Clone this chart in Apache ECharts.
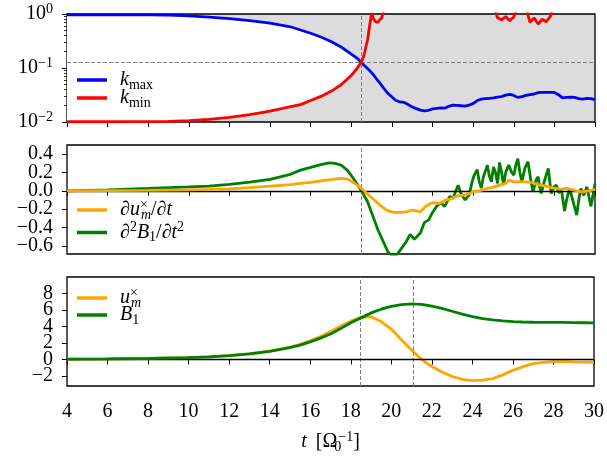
<!DOCTYPE html>
<html><head><meta charset="utf-8">
<script src="https://cdn.jsdelivr.net/npm/echarts@6/dist/echarts.min.js"></script>
<style>html,body{margin:0;padding:0;background:#fff}#c{width:607px;height:456px}</style>
</head><body><div id="c"></div><script>
// ---------- data ----------
const xTicks = [4, 6, 8, 10, 12, 14, 16, 18, 20, 22, 24, 26, 28, 30];
const tTop = [4, 6, 8, 9, 10, 11, 12, 13, 14, 15,
  15.5, 16, 16.5, 17, 17.5, 18, 18.3, 18.48, 18.6, 18.8,
  18.9, 19.0, 19.1, 19.2, 19.3, 19.4, 19.5, 19.6, 19.8, 20.0,
  20.2, 20.4, 20.6, 20.8, 21.0, 21.2, 21.4, 21.6, 21.8, 22.0,
  22.2, 22.4, 22.6, 22.8, 23.0, 23.2, 23.4, 23.6, 23.8, 24.0,
  24.2, 24.4, 24.6, 24.8, 25.0, 25.2, 25.4, 25.6, 25.8, 26.0,
  26.2, 26.4, 26.6, 26.8, 27.0, 27.2, 27.4, 27.6, 27.8, 28.0,
  28.2, 28.4, 28.6, 28.8, 29.0, 29.2, 29.4, 29.6, 29.8, 30.0];
const kMax = [0.96, 0.96, 0.96, 0.95, 0.925, 0.875, 0.82, 0.755, 0.675, 0.58,
  0.505, 0.44, 0.375, 0.31, 0.245, 0.18, 0.15, 0.128, 0.115, 0.098,
  0.09, 0.082, 0.074, 0.066, 0.059, 0.053, 0.047, 0.042, 0.034, 0.029,
  0.025, 0.0235, 0.023, 0.021, 0.019, 0.0177, 0.0166, 0.016, 0.0165, 0.0175,
  0.0178, 0.0183, 0.018, 0.0195, 0.0205, 0.0203, 0.02, 0.0197, 0.0205, 0.022,
  0.025, 0.0265, 0.027, 0.0275, 0.028, 0.029, 0.0295, 0.0315, 0.0325, 0.031,
  0.0285, 0.0295, 0.031, 0.032, 0.033, 0.035, 0.0355, 0.0355, 0.0355, 0.0352,
  0.032, 0.028, 0.0285, 0.029, 0.0285, 0.027, 0.0265, 0.0275, 0.027, 0.026];
const kMin = [0.0101, 0.0101, 0.0102, 0.0103, 0.0106, 0.0112, 0.0122, 0.0137, 0.0159, 0.0192,
  0.021, 0.025, 0.0298, 0.037, 0.049, 0.073, 0.1, 0.128, 0.16, 0.33,
  0.6, 1.05, 0.8, 0.72, 0.7, 0.78, 0.85, 1.2, 2.5, 3,
  3, 3, 3, 3, 3, 3, 3, 3, 3, 3,
  3, 3, 3, 3, 3, 3, 3, 3, 3, 3,
  3, 3, 3, 3, 1.5, 0.85, 0.78, 0.9, 0.75, 0.88,
  1.4, 2, 1.3, 0.7, 0.85, 0.65, 0.8, 0.72, 0.9, 1.6,
  3, 3, 3, 3, 3, 3, 3, 3, 3, 3];
const tCross = 18.48, tPeakB = 21.1, kCross = 0.128;

const tDU = [4, 6, 8, 10, 11, 12, 13, 14, 15, 15.5,
  16, 16.5, 17, 17.45, 17.8, 18.1, 18.5, 18.95, 19.4, 19.8,
  20.1, 20.4, 20.7, 21.0, 21.2, 21.4, 21.64, 21.9, 22.1, 22.3,
  22.5, 22.65, 22.9, 23.1, 23.35, 23.6, 23.8, 24.05, 24.3, 24.7,
  25.0, 25.3, 25.6, 25.75, 26.0, 26.3, 26.6, 26.9, 27.3, 27.6,
  27.9, 28.2, 28.4, 28.6, 28.9, 29.2, 29.4, 29.7, 30];
const dU = [0.0, 0.002, 0.005, 0.01, 0.015, 0.022, 0.035, 0.05, 0.068, 0.08,
  0.092, 0.109, 0.122, 0.135, 0.13, 0.091, 0.026, -0.065, -0.156, -0.22,
  -0.236, -0.235, -0.23, -0.21, -0.22, -0.23, -0.174, -0.138, -0.13, -0.14,
  -0.12, -0.1, -0.09, -0.065, -0.05, -0.047, -0.03, -0.004, 0.0, 0.026,
  0.04, 0.062, 0.08, 0.117, 0.098, 0.1, 0.098, 0.09, 0.062, 0.05,
  0.033, 0.02, 0.018, 0.03, 0.01, -0.005, -0.011, 0.0, 0.015];

const tD2B = [4, 5, 6, 7, 8, 9, 10, 11, 12, 13,
  14, 15, 15.5, 16, 16.5, 16.9, 17.2, 17.5, 17.8, 18.1,
  18.3, 18.5, 18.8, 19.1, 19.3, 19.5, 19.8, 20.0, 20.2, 20.4,
  20.7, 20.9, 21.1, 21.4, 21.6, 21.8, 22.0, 22.2, 22.4, 22.6,
  22.85, 23.0, 23.15, 23.26, 23.4, 23.6, 23.8, 23.95, 24.05, 24.2,
  24.3, 24.4, 24.5, 24.7, 24.8, 24.9, 25.0, 25.1, 25.2, 25.3,
  25.4, 25.5, 25.6, 25.75, 25.9, 26.0, 26.1, 26.2, 26.3, 26.4,
  26.55, 26.7, 26.85, 26.95, 27.1, 27.2, 27.3, 27.35, 27.5, 27.7,
  27.8, 27.85, 28.0, 28.1, 28.2, 28.35, 28.5, 28.6, 28.75, 28.9,
  29.1, 29.2, 29.3, 29.45, 29.6, 29.8, 29.9, 30.0];
const d2B = [0.0, 0.005, 0.01, 0.018, 0.025, 0.035, 0.042, 0.05, 0.07, 0.095,
  0.125, 0.18, 0.226, 0.255, 0.285, 0.305, 0.3, 0.28, 0.226, 0.135,
  0.07, 0.0, -0.12, -0.3, -0.42, -0.52, -0.665, -0.71, -0.71, -0.65,
  -0.556, -0.475, -0.53, -0.46, -0.345, -0.32, -0.236, -0.17, -0.13, -0.17,
  -0.06, -0.083, 0.0, 0.06, -0.03, -0.1, -0.047, 0.1, 0.17, 0.23,
  0.1, 0.03, 0.15, 0.28, 0.16, 0.098, 0.26, 0.2, 0.08, 0.31,
  0.2, 0.062, 0.2, 0.28, 0.2, 0.17, 0.28, 0.35, 0.2, 0.098,
  0.25, 0.318, 0.1, -0.011, 0.12, 0.153, 0.02, -0.029, 0.1, 0.244,
  0.05, -0.029, 0.05, 0.062, -0.02, 0.007, -0.22, -0.1, 0.026, -0.1,
  -0.265, -0.1, 0.026, -0.05, 0.044, -0.17, -0.05, 0.08];

const tBot = [4, 6, 8, 10, 11, 12, 13, 14, 15, 15.5,
  16, 16.5, 17, 17.5, 18, 18.5, 19, 19.5, 20, 20.5,
  21, 21.5, 22, 22.5, 23, 23.5, 24, 24.5, 25, 25.5,
  26, 26.5, 27, 27.5, 28, 28.5, 29, 29.5, 30];
const uM = [0.05, 0.08, 0.13, 0.24, 0.33, 0.48, 0.7, 1.02, 1.5, 1.85,
  2.3, 2.8, 3.4, 4.05, 4.65, 5.12, 5.2, 4.6, 3.7, 2.4,
  1.15, 0.0, -0.84, -1.5, -2.05, -2.4, -2.55, -2.5, -2.3, -1.85,
  -1.3, -0.85, -0.5, -0.33, -0.25, -0.22, -0.27, -0.31, -0.32];
const B1 = [0.05, 0.08, 0.13, 0.24, 0.33, 0.48, 0.7, 1.0, 1.45, 1.75,
  2.15, 2.6, 3.1, 3.75, 4.45, 5.05, 5.65, 6.1, 6.45, 6.65,
  6.75, 6.68, 6.48, 6.2, 5.85, 5.5, 5.2, 4.95, 4.8, 4.68,
  4.6, 4.55, 4.52, 4.5, 4.5, 4.5, 4.48, 4.46, 4.44];

const logMajor = [0.01, 0.1, 1];
const logMinor = [0.02, 0.03, 0.04, 0.05, 0.06, 0.07, 0.08, 0.09, 0.2, 0.3, 0.4, 0.5, 0.6, 0.7, 0.8, 0.9];
const midTicksA = [-0.6, -0.2, 0.2];
const midTicksB = [-0.4, 0, 0.4];
const botTicksA = [-2, 2, 6];
const botTicksB = [0, 4, 8];

// ---------- helpers ----------
const F = 'Liberation Serif';
const FS = 20;
const GRAY = '#dcdcdc';
const rich = {
  r: {fontFamily: F, fontSize: FS, lineHeight: 24, color: '#000'},
  i: {fontFamily: F, fontSize: FS, fontStyle: 'italic', lineHeight: 24, color: '#000'},
  sub: {fontFamily: F, fontSize: 14, lineHeight: 14, verticalAlign: 'bottom', color: '#000'},
  subi: {fontFamily: F, fontSize: 14, fontStyle: 'italic', lineHeight: 14, verticalAlign: 'bottom', color: '#000'},
  subz: {fontFamily: F, fontSize: 14, lineHeight: 14, verticalAlign: 'bottom', width: 1, color: '#000'},
  sup: {fontFamily: F, fontSize: 14, lineHeight: 14, verticalAlign: 'top', color: '#000'},
  supz: {fontFamily: F, fontSize: 14, lineHeight: 14, verticalAlign: 'top', width: 1, color: '#000'},
  sp: {fontFamily: F, fontSize: FS, lineHeight: 24, width: 9}
};
const zip = (a, b) => a.slice(0, Math.min(a.length, b.length)).map((t, i) => [t, b[i]]);
const bandTop = [], bandLow = [];
tTop.forEach((t, i) => { if (t <= tCross + 1e-9) { bandTop.push([t, kMax[i]]); bandLow.push([t, kMin[i]]); } });

const legendText = {
  kmax: '{i|k}{sub|max}',
  kmin: '{i|k}{sub|min}',
  du: '{r|∂}{i|u}{supz|×}{subi|m}{r|/∂}{i|t}',
  d2b: '{r|∂}{sup|2}{i|B}{sub|1}{r|/∂}{i|t}{sup|2}',
  u: '{i|u}{supz|×}{subi|m}',
  b1: '{i|B}{sub|1}'
};
const minus = v => String(v).replace('-', '\u2212');

// grids 0-2 visible panels; 3-5 overlay copies used only for extra tick/label sets
const rects = [[14, 108], [145, 109], [277, 109], [14, 108], [145, 109], [277, 109]];
const grids = rects.map(([top, h], k) => ({left: 67, right: 12, top: top, height: h,
  show: k < 3, borderColor: '#000', borderWidth: 1.3,
  backgroundColor: k === 0 ? GRAY : 'transparent', containLabel: false}));

const xAxisBase = k => ({
  type: 'value', gridIndex: k, min: 4, max: 30, interval: 2, show: k < 3,
  axisLine: {show: false}, splitLine: {show: false},
  axisTick: {show: true, length: 5, lineStyle: {color: '#000', width: 1}},
  axisLabel: {show: k === 2, margin: 16, fontFamily: F, fontSize: FS, color: '#000',
    showMinLabel: true, showMaxLabel: true}
});
const xAxes = [0, 1, 2, 3, 4, 5].map(xAxisBase);
xAxes[2].name = '{i|t}{sp| }{r|[Ω}{subz|0}{sup|−1}{r|]}';
xAxes[2].nameLocation = 'middle';
xAxes[2].nameGap = 44;
xAxes[2].nameTextStyle = {rich: rich};

const tickStyle = {color: '#000', width: 1};
const yLab = {interval: 0, hideOverlap: false, showMinLabel: true, showMaxLabel: true, margin: 14,
  fontFamily: F, fontSize: FS, color: '#000'};
const valAxis = (grid, min, max, vals, fmt) => ({
  type: 'value', gridIndex: grid, min: min, max: max,
  axisLine: {show: false}, splitLine: {show: false},
  axisTick: {show: true, length: 5, interval: 0, customValues: vals, lineStyle: tickStyle},
  axisLabel: Object.assign({}, yLab, {customValues: vals, formatter: fmt})
});
const fmtMid = v => minus(v.toFixed(1));
const fmtBot = v => minus(Math.round(v));
const yAxes = [
  {type: 'log', logBase: 10, gridIndex: 0, min: 0.01, max: 1,
   axisLine: {show: false}, splitLine: {show: false}, minorTick: {show: false},
   axisTick: {show: true, length: 5, interval: 0, customValues: logMajor, lineStyle: tickStyle},
   axisLabel: Object.assign({}, yLab, {customValues: logMajor, rich: rich,
     formatter: v => '{r|10}{sup|' + minus(Math.round(Math.log10(v))) + '}'})},
  valAxis(1, -0.69, 0.5, midTicksA, fmtMid),
  valAxis(2, -3.2, 10, botTicksA, fmtBot),
  {type: 'log', logBase: 10, gridIndex: 3, min: 0.01, max: 1,
   axisLine: {show: false}, splitLine: {show: false}, axisLabel: {show: false},
   axisTick: {show: true, length: 3, interval: 0, customValues: logMinor, lineStyle: {color: '#000', width: 0.8}}},
  valAxis(4, -0.69, 0.5, midTicksB, fmtMid),
  valAxis(5, -3.2, 10, botTicksB, fmtBot)
];

const dashed = {type: [4, 2], color: '#808080', width: 1};
const mlBase = {silent: true, symbol: ['none', 'none'], label: {show: false}, animation: false, emphasis: {disabled: true}};
const lineSeries = (name, data, xi, yi, color, z, extra) => Object.assign({
  name: name, type: 'line', xAxisIndex: xi, yAxisIndex: yi, data: data,
  showSymbol: false, symbol: 'none', smooth: false, z: z, animation: false,
  lineStyle: {color: color, width: 2.8}, itemStyle: {color: color}, emphasis: {disabled: true}
}, extra || {});

const series = [
  // white band between k_min and k_max before they cross
  {type: 'custom', xAxisIndex: 0, yAxisIndex: 0, data: [[tCross, kCross]], z: 1, silent: true, animation: false,
   renderItem: (params, api) => {
     const pts = bandTop.map(p => api.coord(p)).concat(bandLow.slice().reverse().map(p => api.coord(p)));
     return {type: 'polygon', shape: {points: pts}, style: {fill: '#ffffff', stroke: null}};
   }},
  lineSeries('kmax', zip(tTop, kMax), 0, 0, '#0000ff', 4, {
    markLine: Object.assign({}, mlBase, {lineStyle: dashed, data: [{xAxis: tCross}, {yAxis: kCross}]})}),
  lineSeries('kmin', zip(tTop, kMin), 0, 0, '#ff0000', 5),
  lineSeries('d2b', zip(tD2B, d2B), 1, 1, '#008000', 4, {
    markLine: Object.assign({}, mlBase, {lineStyle: dashed, data: [{xAxis: tCross}]})}),
  lineSeries('du', zip(tDU, dU), 1, 1, '#ffa500', 5, {
    markLine: Object.assign({}, mlBase, {lineStyle: {color: '#000', width: 1.3, type: 'solid'}, data: [{yAxis: 0}]})}),
  lineSeries('u', zip(tBot, uM), 2, 2, '#ffa500', 4, {
    markLine: Object.assign({}, mlBase, {lineStyle: dashed, data: [{xAxis: tCross}, {xAxis: tPeakB}]})}),
  lineSeries('b1', zip(tBot, B1), 2, 2, '#008000', 5, {
    markLine: Object.assign({}, mlBase, {lineStyle: {color: '#000', width: 1.3, type: 'solid'}, data: [{yAxis: 0}]})})
];

const legendPos = [['kmax', 70], ['kmin', 88], ['du', 198], ['d2b', 220.5], ['u', 286], ['b1', 305]];
const legends = legendPos.map(([n, top]) => ({
  data: [n], left: 77, top: top, padding: 0, orient: 'vertical', icon: 'rect',
  itemWidth: 30, itemHeight: 3.5, selectedMode: false,
  formatter: nm => legendText[nm],
  textStyle: {rich: rich, padding: [0, 0, 0, 8]}
}));

const chart = echarts.init(document.getElementById('c'));
chart.setOption({
  animation: false,
  backgroundColor: '#fff',
  grid: grids, xAxis: xAxes, yAxis: yAxes, legend: legends, series: series
});
</script></body></html>
